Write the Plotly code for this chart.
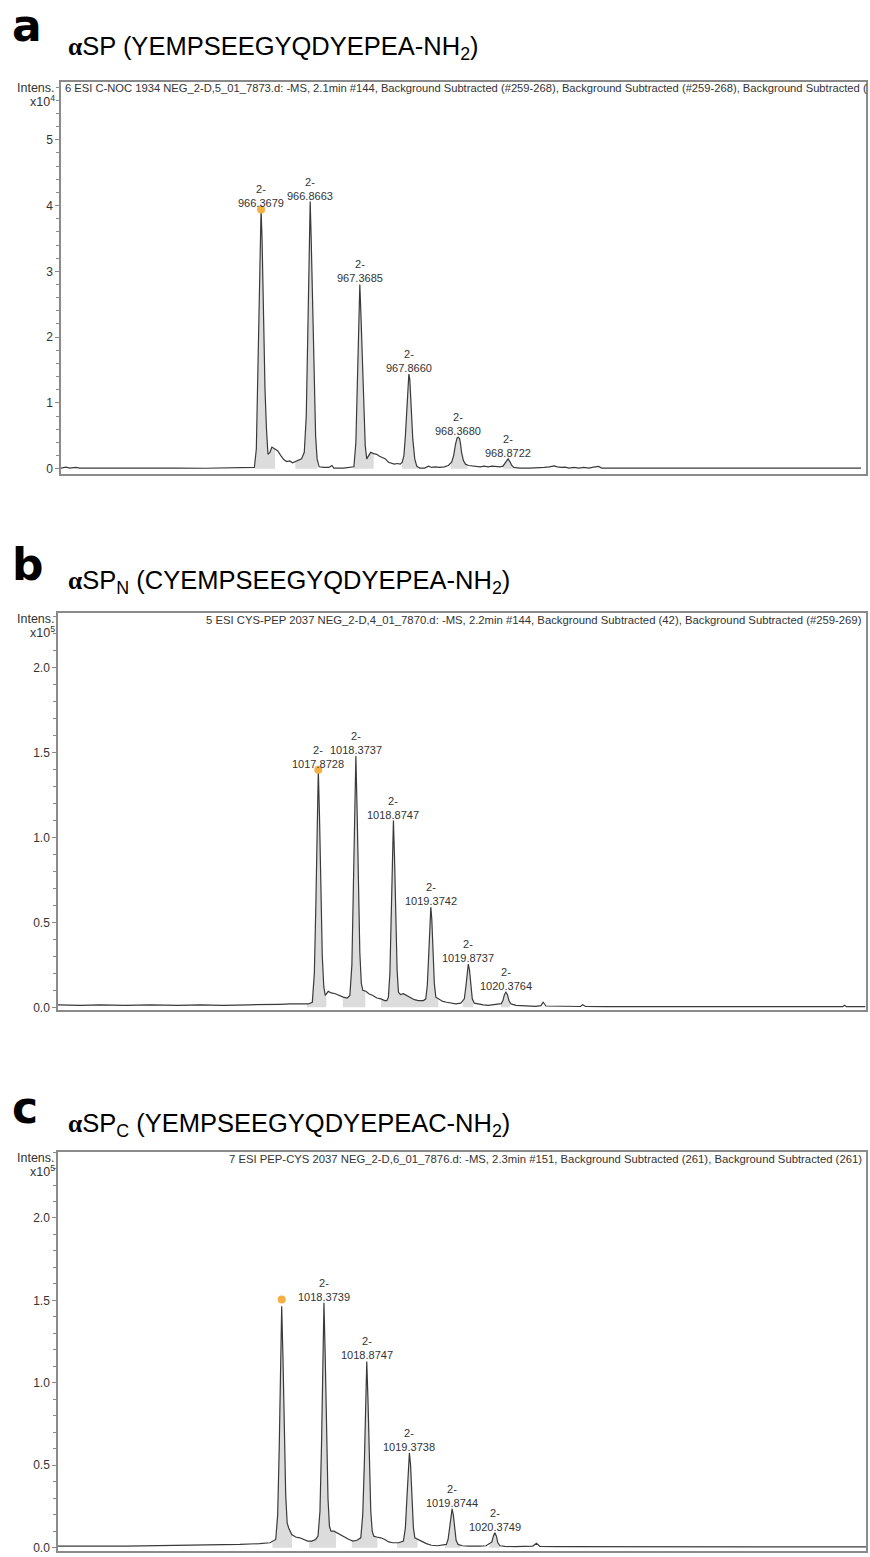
import numpy as np
import plotly.graph_objects as go

# ---------------- data ----------------
# Panel a : alphaSP, intensity in units of 1e4
mz_a = [964.34, 964.39, 964.43, 964.49, 964.53, 964.70, 964.93, 965.20, 965.50, 965.80, 966.10, 966.25,
        966.30, 966.32, 966.333, 966.348, 966.361, 966.368, 966.378, 966.393, 966.408, 966.423, 966.438,
        966.458, 966.478, 966.508, 966.538, 966.568, 966.598, 966.628, 966.658, 966.688, 966.718, 966.748,
        966.778, 966.806, 966.826, 966.841, 966.856, 966.866, 966.876, 966.891, 966.906, 966.921, 966.936,
        966.956, 967.006, 967.056, 967.086, 967.106, 967.206, 967.266, 967.309, 967.329, 967.344, 967.359,
        967.369, 967.379, 967.394, 967.409, 967.424, 967.439, 967.459, 967.479, 967.509, 967.539, 967.569,
        967.599, 967.629, 967.659, 967.689, 967.719, 967.749, 967.779, 967.799, 967.816, 967.831, 967.846,
        967.856, 967.866, 967.876, 967.891, 967.906, 967.926, 967.946, 967.976, 968.026, 968.066, 968.096,
        968.136, 968.176, 968.226, 968.266, 968.30, 968.32, 968.34, 968.355, 968.368, 968.38, 968.39,
        968.40, 968.42, 968.44, 968.47, 968.51, 968.55, 968.59, 968.63, 968.67, 968.71, 968.75, 968.79,
        968.82, 968.845, 968.872, 968.89, 968.91, 968.93, 968.99, 969.09, 969.19, 969.24, 969.29, 969.34,
        969.37, 969.41, 969.45, 969.49, 969.54, 969.59, 969.64, 969.69, 969.74, 969.79, 969.82, 969.89,
        969.99, 970.19, 970.39, 970.59, 970.79, 971.19, 971.59, 971.99, 972.45]
int_a = [0.01, 0.025, 0.01, 0.02, 0.01, 0.008, 0.01, 0.008, 0.01, 0.008, 0.01, 0.01,
         0.02, 0.3, 1.2, 2.6, 3.6, 3.94, 3.5, 2.2, 1.2, 0.6, 0.22,
         0.25, 0.33, 0.30, 0.27, 0.20, 0.14, 0.11, 0.12, 0.09, 0.11, 0.12,
         0.15, 0.25, 0.8, 2.0, 3.4, 4.06, 3.5, 2.3, 1.2, 0.5, 0.15,
         0.03, 0.02, 0.02, 0.05, 0.01, 0.01, 0.02, 0.03, 0.4, 1.2, 2.2,
         2.80, 2.4, 1.6, 0.8, 0.35, 0.15, 0.2, 0.25, 0.23, 0.22, 0.19,
         0.17, 0.15, 0.10, 0.08, 0.07, 0.08, 0.07, 0.10, 0.2, 0.5, 1.0,
         1.3, 1.44, 1.35, 0.9, 0.45, 0.15, 0.04, 0.01, 0.01, 0.04, 0.02,
         0.03, 0.02, 0.03, 0.05, 0.10, 0.20, 0.38, 0.47, 0.48, 0.46, 0.38,
         0.25, 0.12, 0.07, 0.05, 0.04, 0.04, 0.03, 0.04, 0.03, 0.04, 0.03, 0.03,
         0.04, 0.09, 0.15, 0.11, 0.05, 0.02, 0.01, 0.01, 0.01, 0.02, 0.03, 0.045,
         0.03, 0.02, 0.025, 0.01, 0.02, 0.01, 0.02, 0.01, 0.025, 0.035, 0.01, 0.01,
         0.015, 0.015, 0.01, 0.012, 0.01, 0.01, 0.01, 0.01, 0.01]
peak_mz_a = [966.3679, 966.8663, 967.3685, 967.8660, 968.3680, 968.8722]
peak_int_a = [3.94, 4.06, 2.80, 1.44, 0.48, 0.15]
peak_lbl_a = ["966.3679", "966.8663", "967.3685", "967.8660", "968.3680", "968.8722"]
shade_a = [(966.305, 966.51), (966.715, 966.94), (967.305, 967.51), (967.795, 967.96), (968.29, 968.46), (968.82, 968.92)]
dot_a = (966.3679, 3.94)

# Panel b : alphaSP_N, intensity in units of 1e5
mz_b = [1014.40, 1014.70, 1014.96, 1015.30, 1015.63, 1016.00, 1016.30, 1016.60, 1016.96, 1017.20, 1017.36,
        1017.50, 1017.63, 1017.74, 1017.793, 1017.820, 1017.840, 1017.856, 1017.873, 1017.890, 1017.906,
        1017.926, 1017.946, 1017.966, 1018.006, 1018.046, 1018.100, 1018.153, 1018.206, 1018.260, 1018.294,
        1018.321, 1018.341, 1018.357, 1018.374, 1018.391, 1018.407, 1018.427, 1018.447, 1018.467, 1018.507,
        1018.547, 1018.600, 1018.654, 1018.707, 1018.760, 1018.787, 1018.808, 1018.828, 1018.846, 1018.860,
        1018.875, 1018.890, 1018.906, 1018.924, 1018.942, 1018.968, 1019.008, 1019.048, 1019.102, 1019.155,
        1019.208, 1019.275, 1019.307, 1019.327, 1019.347, 1019.361, 1019.374, 1019.387, 1019.403, 1019.421,
        1019.441, 1019.481, 1019.534, 1019.587, 1019.641, 1019.707, 1019.774, 1019.821, 1019.841, 1019.858,
        1019.874, 1019.890, 1019.907, 1019.927, 1019.954, 1020.007, 1020.074, 1020.141, 1020.207, 1020.274,
        1020.314, 1020.336, 1020.356, 1020.376, 1020.396, 1020.416, 1020.443, 1020.509, 1020.643, 1020.776,
        1020.843, 1020.873, 1020.909, 1021.10, 1021.37, 1021.40, 1021.44, 1021.70, 1022.00, 1022.40,
        1022.70, 1022.75, 1023.20, 1023.70, 1024.19, 1024.25, 1024.60, 1024.87, 1024.894, 1024.92, 1025.17]
int_b = [0.015, 0.012, 0.015, 0.012, 0.015, 0.012, 0.015, 0.012, 0.015, 0.015, 0.018,
         0.02, 0.02, 0.02, 0.03, 0.2, 0.6, 1.05, 1.40, 1.1, 0.7,
         0.3, 0.12, 0.07, 0.094, 0.085, 0.08, 0.07, 0.06, 0.055, 0.07,
         0.25, 0.65, 1.1, 1.48, 1.15, 0.72, 0.32, 0.14, 0.10, 0.095,
         0.08, 0.07, 0.055, 0.05, 0.04, 0.04, 0.06, 0.2, 0.5, 0.85,
         1.10, 0.88, 0.52, 0.22, 0.09, 0.075, 0.08, 0.07, 0.055, 0.045,
         0.04, 0.04, 0.05, 0.13, 0.32, 0.5, 0.59, 0.52, 0.32, 0.14,
         0.06, 0.05, 0.035, 0.03, 0.025, 0.02, 0.025, 0.05, 0.12, 0.21,
         0.255, 0.22, 0.13, 0.05, 0.025, 0.02, 0.015, 0.012, 0.015, 0.02,
         0.022, 0.04, 0.075, 0.09, 0.075, 0.04, 0.02, 0.012, 0.008, 0.006,
         0.01, 0.03, 0.008, 0.005, 0.005, 0.015, 0.005, 0.004, 0.004, 0.004,
         0.0, 0.004, 0.004, 0.004, 0.0, 0.004, 0.004, 0.004, 0.012, 0.004, 0.004]
peak_mz_b = [1017.8728, 1018.3737, 1018.8747, 1019.3742, 1019.8737, 1020.3764]
peak_int_b = [1.40, 1.48, 1.10, 0.59, 0.255, 0.09]
peak_lbl_b = ["1017.8728", "1018.3737", "1018.8747", "1019.3742", "1019.8737", "1020.3764"]
shade_b = [(1017.72, 1017.98), (1018.20, 1018.50), (1018.71, 1019.475), (1019.80, 1019.94), (1020.31, 1020.43)]
dot_b = (1017.8728, 1.40)

# Panel c : alphaSP_C, intensity in units of 1e5
mz_c = [1015.26, 1015.50, 1015.75, 1016.05, 1016.34, 1016.65, 1016.92, 1017.15, 1017.39, 1017.62, 1017.742,
        1017.809, 1017.832, 1017.850, 1017.864, 1017.879, 1017.894, 1017.908, 1017.926, 1017.943, 1017.961,
        1017.996, 1018.043, 1018.090, 1018.136, 1018.183, 1018.230, 1018.277, 1018.304, 1018.327, 1018.345,
        1018.359, 1018.374, 1018.389, 1018.403, 1018.421, 1018.438, 1018.456, 1018.491, 1018.526, 1018.573,
        1018.620, 1018.667, 1018.713, 1018.760, 1018.805, 1018.828, 1018.846, 1018.860, 1018.875, 1018.890,
        1018.904, 1018.922, 1018.939, 1018.957, 1018.992, 1019.039, 1019.086, 1019.132, 1019.179, 1019.249,
        1019.304, 1019.327, 1019.345, 1019.360, 1019.374, 1019.388, 1019.403, 1019.421, 1019.438, 1019.468,
        1019.514, 1019.573, 1019.632, 1019.702, 1019.760, 1019.807, 1019.827, 1019.845, 1019.860, 1019.874,
        1019.888, 1019.903, 1019.921, 1019.944, 1019.991, 1020.062, 1020.132, 1020.202, 1020.272, 1020.340,
        1020.357, 1020.375, 1020.393, 1020.410, 1020.434, 1020.492, 1020.609, 1020.726, 1020.819, 1020.862,
        1020.902, 1021.10, 1021.50, 1022.00, 1022.50, 1023.00, 1023.50, 1024.00, 1024.72]
int_c = [0.01, 0.008, 0.01, 0.01, 0.012, 0.012, 0.015, 0.015, 0.02, 0.025, 0.03,
         0.05, 0.2, 0.6, 1.05, 1.465, 1.15, 0.72, 0.32, 0.15, 0.12,
         0.08, 0.065, 0.06, 0.05, 0.04, 0.04, 0.05, 0.07, 0.22, 0.62,
         1.05, 1.485, 1.15, 0.72, 0.30, 0.13, 0.10, 0.10, 0.09, 0.075,
         0.06, 0.05, 0.04, 0.045, 0.06, 0.2, 0.5, 0.82, 1.13, 0.88,
         0.55, 0.22, 0.10, 0.07, 0.065, 0.06, 0.05, 0.035, 0.03, 0.03,
         0.04, 0.12, 0.30, 0.48, 0.575, 0.50, 0.30, 0.12, 0.06, 0.05,
         0.04, 0.025, 0.015, 0.012, 0.015, 0.02, 0.05, 0.12, 0.20, 0.236,
         0.20, 0.12, 0.045, 0.02, 0.012, 0.01, 0.008, 0.01, 0.012, 0.035,
         0.07, 0.09, 0.07, 0.03, 0.012, 0.008, 0.006, 0.008, 0.01, 0.027,
         0.008, 0.006, 0.006, 0.005, 0.005, 0.005, 0.005, 0.005, 0.005]
peak_mz_c = [1018.3739, 1018.8747, 1019.3738, 1019.8744, 1020.3749]
peak_int_c = [1.485, 1.13, 0.575, 0.236, 0.09]
peak_lbl_c = ["1018.3739", "1018.8747", "1019.3738", "1019.8744", "1020.3749"]
shade_c = [(1017.77, 1018.0), (1018.20, 1018.515), (1018.70, 1019.0), (1019.23, 1019.47), (1019.79, 1019.97), (1020.31, 1020.435)]
dot_c = (1017.879, 1.505)

headers = [
    "6 ESI C-NOC 1934 NEG_2-D,5_01_7873.d: -MS, 2.1min #144, Background Subtracted (#259-268), Background Subtracted (#259-268), Background Subtracted (",
    "5 ESI CYS-PEP 2037 NEG_2-D,4_01_7870.d: -MS, 2.2min #144, Background Subtracted (42), Background Subtracted (#259-269)",
    "7 ESI PEP-CYS 2037 NEG_2-D,6_01_7876.d: -MS, 2.3min #151, Background Subtracted (261), Background Subtracted (261)",
]
panel_letters = ["a", "b", "c"]
alpha = "<span style=\"font-family:'Liberation Serif'\"><b>α</b></span>"
panel_titles = [
    alpha + "SP (YEMPSEEGYQDYEPEA-NH<sub>2</sub>)",
    alpha + "SP<sub>N</sub> (CYEMPSEEGYQDYEPEA-NH<sub>2</sub>)",
    alpha + "SP<sub>C</sub> (YEMPSEEGYQDYEPEAC-NH<sub>2</sub>)",
]
exponents = ["4", "5", "5"]
y_ticks_a = [0, 1, 2, 3, 4, 5]
y_ticktext_a = ["0", "1", "2", "3", "4", "5"]
y_ticks_bc = [0.0, 0.5, 1.0, 1.5, 2.0]
y_ticktext_bc = ["0.0", "0.5", "1.0", "1.5", "2.0"]

# ---------------- layout geometry (pixels) ----------------
W, H = 870, 1557
def py(p):
    return 1 - p / H

panels = [
    dict(mz=mz_a, it=int_a, pk=peak_mz_a, pi=peak_int_a, pl=peak_lbl_a, sh=shade_a, dot=dot_a,
         xr=[964.34, 972.50], yr=[-0.076, 5.88], xd=[61 / W, 866 / W], yd=[py(475), py(82)],
         tv=y_ticks_a, tt=y_ticktext_a, minor=0.2, top=82, letter_y=26, title_y=48),
    dict(mz=mz_b, it=int_b, pk=peak_mz_b, pi=peak_int_b, pl=peak_lbl_b, sh=shade_b, dot=dot_b,
         xr=[1014.40, 1025.18], yr=[-0.018, 2.32], xd=[58 / W, 866 / W], yd=[py(1013), py(615)],
         tv=y_ticks_bc, tt=y_ticktext_bc, minor=0.1, top=615, letter_y=566, title_y=584),
    dict(mz=mz_c, it=int_c, pk=peak_mz_c, pi=peak_int_c, pl=peak_lbl_c, sh=shade_c, dot=dot_c,
         xr=[1015.26, 1024.72], yr=[-0.02, 2.40], xd=[58 / W, 866 / W], yd=[py(1555), py(1155)],
         tv=y_ticks_bc, tt=y_ticktext_bc, minor=0.1, top=1155, letter_y=1110, title_y=1128),
]

LINE = "#3a3a3a"
FILL = "#dcdcdc"
FRAME = "#8a8a8a"
TXT = "#333333"
FONT = "Liberation Sans"

fig = go.Figure()
annotations = []
layout_axes = {}

for i, p in enumerate(panels):
    sfx = "" if i == 0 else str(i + 1)
    xref, yref = "x" + sfx, "y" + sfx
    mz = np.array(p["mz"], dtype=float)
    it = np.array(p["it"], dtype=float)
    # shaded areas under the peaks
    for (s, e) in p["sh"]:
        m = (mz > s) & (mz < e)
        xs = np.concatenate([[s], mz[m], [e]])
        ys = np.concatenate([[np.interp(s, mz, it)], it[m], [np.interp(e, mz, it)]])
        fig.add_trace(go.Scatter(x=xs, y=ys, mode="lines", line=dict(width=0), fill="tozeroy",
                                 fillcolor=FILL, hoverinfo="skip", showlegend=False,
                                 xaxis=xref, yaxis=yref))
    # profile line
    fig.add_trace(go.Scatter(x=mz, y=it, mode="lines", line=dict(color=LINE, width=1.2),
                             showlegend=False, xaxis=xref, yaxis=yref))
    # orange marker on the base peak
    fig.add_trace(go.Scatter(x=[p["dot"][0]], y=[p["dot"][1]], mode="markers",
                             marker=dict(color="#f5b041", size=8, line=dict(width=0)),
                             showlegend=False, xaxis=xref, yaxis=yref))
    # peak labels
    for x0, y0, lb in zip(p["pk"], p["pi"], p["pl"]):
        annotations.append(dict(x=x0, y=y0, xref=xref, yref=yref, text="2-<br>" + lb,
                                showarrow=False, yanchor="bottom", xanchor="center", yshift=-2,
                                font=dict(family=FONT, size=11, color=TXT)))
    # axes
    layout_axes["xaxis" + sfx] = dict(domain=p["xd"], range=p["xr"], anchor=yref,
                                      showline=True, mirror=True, linecolor=FRAME, linewidth=1.5,
                                      showgrid=False, zeroline=False, showticklabels=False, ticks="")
    layout_axes["yaxis" + sfx] = dict(domain=p["yd"], range=p["yr"], anchor=xref,
                                      showline=True, mirror=True, linecolor=FRAME, linewidth=1.5,
                                      showgrid=False, zeroline=False, tickvals=p["tv"], ticktext=p["tt"],
                                      ticks="outside", ticklen=4, tickcolor=FRAME, tickwidth=1,
                                      tickfont=dict(family=FONT, size=12, color=TXT),
                                      minor=dict(dtick=p["minor"], tick0=0, ticks="outside", ticklen=3,
                                                 tickcolor=FRAME, tickwidth=1))
    # header text in plot
    if i == 0:
        annotations.append(dict(x=63 / W, y=py(p["top"] + 6), xref="paper", yref="paper",
                                text=headers[i], showarrow=False, xanchor="left", yanchor="middle",
                                font=dict(family=FONT, size=11.2, color=TXT)))
    else:
        annotations.append(dict(x=864 / W, y=py(p["top"] + 7), xref="paper", yref="paper",
                                text=headers[i], showarrow=False, xanchor="right", yanchor="middle",
                                font=dict(family=FONT, size=11.3, color=TXT)))
    # Intens. / x10^n
    annotations.append(dict(x=57 / W, y=py(p["top"] + 6), xref="paper", yref="paper", text="Intens.",
                            showarrow=False, xanchor="right", yanchor="middle",
                            font=dict(family=FONT, size=12.5, color=TXT)))
    annotations.append(dict(x=57 / W, y=py(p["top"] + 19), xref="paper", yref="paper",
                            text="x10<sup>" + exponents[i] + "</sup>",
                            showarrow=False, xanchor="right", yanchor="middle",
                            font=dict(family=FONT, size=12.5, color=TXT)))
    # panel letter and title
    annotations.append(dict(x=10 / W, y=py(p["letter_y"]), xref="paper", yref="paper",
                            text="<b>" + panel_letters[i] + "</b>", showarrow=False,
                            xanchor="left", yanchor="middle",
                            font=dict(family="DejaVu Sans", size=44, color="#000000")))
    annotations.append(dict(x=66 / W, y=py(p["title_y"]), xref="paper", yref="paper",
                            text=panel_titles[i], showarrow=False, xanchor="left", yanchor="middle",
                            font=dict(family=FONT, size=25.5, color="#000000")))

fig.update_layout(width=W, height=H, margin=dict(l=0, r=0, t=0, b=0),
                  paper_bgcolor="white", plot_bgcolor="white", showlegend=False,
                  annotations=annotations, **layout_axes)

fig.write_html("out.html")
